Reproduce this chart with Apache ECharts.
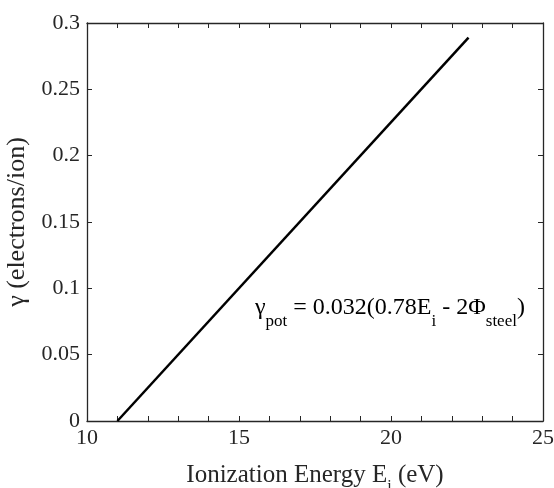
<!DOCTYPE html>
<html>
<head>
<meta charset="utf-8">
<script src="https://cdn.jsdelivr.net/npm/echarts@6/dist/echarts.min.js"></script>
<style>
  html, body { margin: 0; padding: 0; background: #fff; }
  #mychart { width: 554px; height: 488px; }
</style>
</head>
<body>
<div id="mychart"></div>
<script>
// ionization energy (eV) and gamma values at the line ends
var energy = [11.0, 22.55];
var gamma = [0, 0.289];
var xTicks = [10, 15, 20, 25];
var yTicks = [0, 0.05, 0.1, 0.15, 0.2, 0.25, 0.3];

var lineData = energy.map(function (e, i) { return [e, gamma[i]]; });

var font = 'Liberation Serif';
var axisCol = '#262626';

var chart = echarts.init(document.getElementById('mychart'));

var subStyle = { fontFamily: font, fontSize: 17, color: '#000', lineHeight: 16, verticalAlign: 'bottom' };
var mainStyle = { fontFamily: font, fontSize: 24, color: '#000', lineHeight: 34, verticalAlign: 'top' };

var option = {
    animation: false,
    grid: { left: 87, right: 11, top: 23, bottom: 67, outerBoundsMode: 'none', containLabel: false },
    xAxis: [{
        type: 'value',
        min: xTicks[0],
        max: xTicks[xTicks.length - 1],
        interval: 5,
        name: '{m|Ionization Energy E}{s|i}{m| (eV)}',
        nameLocation: 'middle',
        nameGap: 42,
        nameTextStyle: {
            rich: {
                m: { fontFamily: font, fontSize: 25, color: '#262626', lineHeight: 32, verticalAlign: 'top' },
                s: { fontFamily: font, fontSize: 16, color: '#262626', lineHeight: 14, verticalAlign: 'bottom' }
            }
        },
        axisLine: { show: true, onZero: false, lineStyle: { color: axisCol, width: 1.3 } },
        axisTick: { show: true, inside: true, length: 5, lineStyle: { color: axisCol } },
        minorTick: { show: true, splitNumber: 5, length: 5, lineStyle: { color: axisCol } },
        axisLabel: { fontFamily: font, fontSize: 22, color: '#262626', margin: 6 },
        splitLine: { show: false }
    }, {
        type: 'value',
        position: 'top',
        min: xTicks[0],
        max: xTicks[xTicks.length - 1],
        interval: 5,
        axisLine: { show: true, onZero: false, lineStyle: { color: axisCol, width: 1.3 } },
        axisTick: { show: true, inside: true, length: 5, lineStyle: { color: axisCol } },
        minorTick: { show: true, splitNumber: 5, length: 5, lineStyle: { color: axisCol } },
        axisLabel: { show: false },
        splitLine: { show: false }
    }],
    yAxis: [{
        type: 'value',
        min: yTicks[0],
        max: yTicks[yTicks.length - 1],
        interval: 0.05,
        name: 'γ (electrons/ion)',
        nameLocation: 'middle',
        nameGap: 48,
        nameTextStyle: { fontFamily: font, fontSize: 26, color: '#262626' },
        axisLine: { show: true, onZero: false, lineStyle: { color: axisCol, width: 1.3 } },
        axisTick: { show: true, inside: true, length: 5, lineStyle: { color: axisCol } },
        axisLabel: { fontFamily: font, fontSize: 22, color: '#262626', margin: 7 },
        splitLine: { show: false }
    }, {
        type: 'value',
        position: 'right',
        min: yTicks[0],
        max: yTicks[yTicks.length - 1],
        interval: 0.05,
        axisLine: { show: true, onZero: false, lineStyle: { color: axisCol, width: 1.3 } },
        axisTick: { show: true, inside: true, length: 5, lineStyle: { color: axisCol } },
        axisLabel: { show: false },
        splitLine: { show: false }
    }],
    graphic: [{
        type: 'text',
        left: 255,
        top: 296,
        style: {
            text: '{m|γ}{s|pot}{m| = 0.032(0.78E}{s|i}{m| - 2Φ}{s|steel}{m|)}',
            rich: { m: mainStyle, s: subStyle }
        }
    }],
    series: [{
        name: 'gamma',
        type: 'line',
        data: lineData,
        showSymbol: false,
        lineStyle: { color: '#000', width: 2.5 }
    }]
};

chart.setOption(option);
</script>
</body>
</html>
